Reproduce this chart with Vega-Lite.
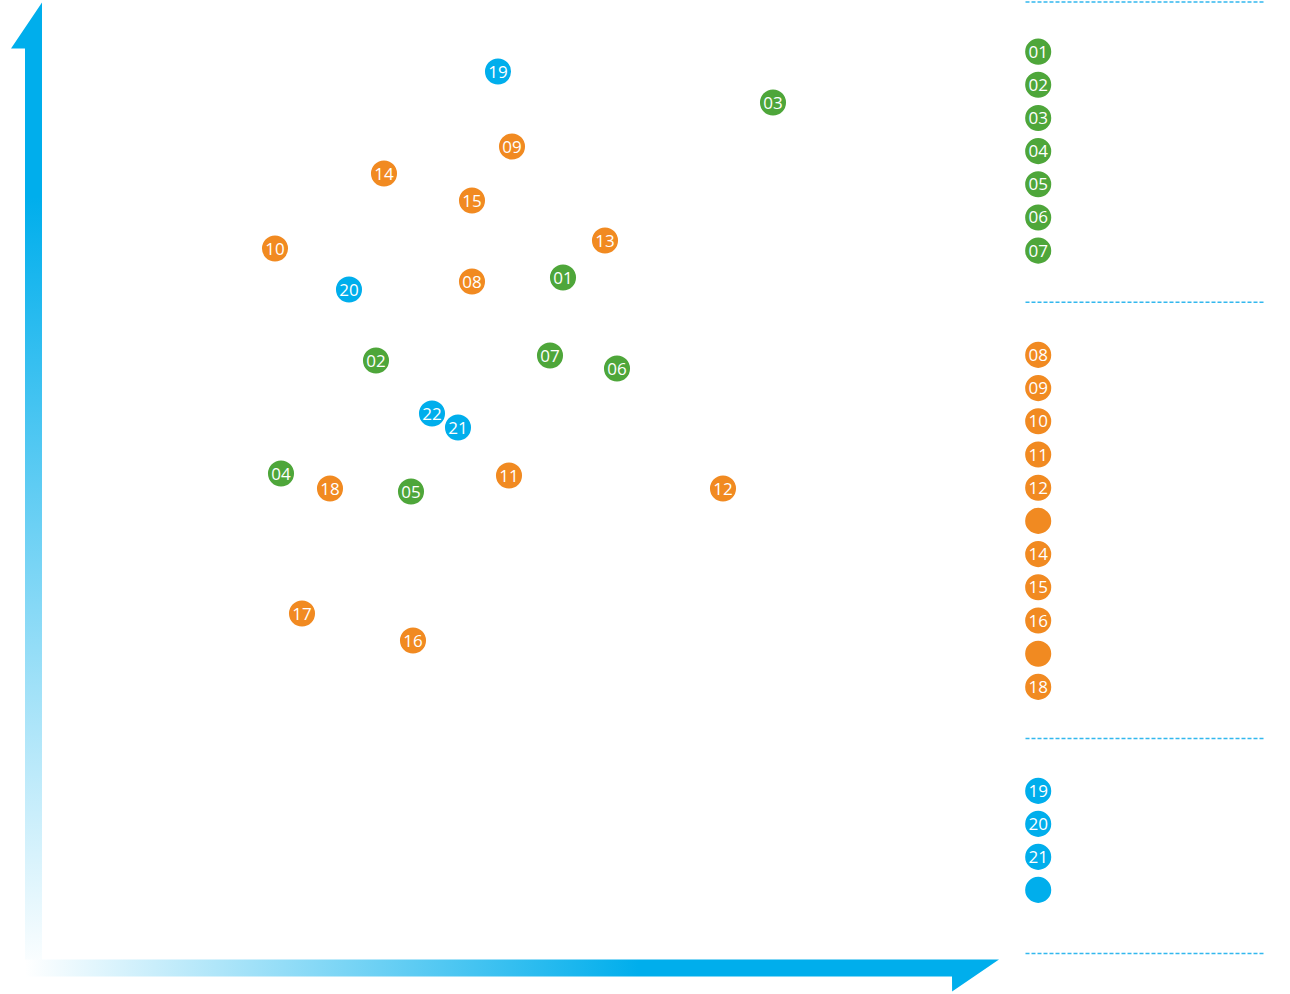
{
  "$schema": "https://vega.github.io/schema/vega-lite/v6.json",
  "padding": {"top": 1.5, "left": 0, "right": 0, "bottom": 0},
  "background": "#ffffff",
  "config": {"view": {"stroke": null}},
  "datasets": {
    "points": [
      {"id": "01", "group": "A", "x": 56.3, "y": 71.6},
      {"id": "02", "group": "A", "x": 37.6, "y": 63.3},
      {"id": "03", "group": "A", "x": 77.3, "y": 89.1},
      {"id": "04", "group": "A", "x": 28.1, "y": 52.0},
      {"id": "05", "group": "A", "x": 41.1, "y": 50.2},
      {"id": "06", "group": "A", "x": 61.7, "y": 62.5},
      {"id": "07", "group": "A", "x": 55.0, "y": 63.8},
      {"id": "08", "group": "B", "x": 47.2, "y": 71.2},
      {"id": "09", "group": "B", "x": 51.2, "y": 84.7},
      {"id": "10", "group": "B", "x": 27.5, "y": 74.5},
      {"id": "11", "group": "B", "x": 50.9, "y": 51.8},
      {"id": "12", "group": "B", "x": 72.3, "y": 50.5},
      {"id": "13", "group": "B", "x": 60.5, "y": 75.3},
      {"id": "14", "group": "B", "x": 38.4, "y": 82.0},
      {"id": "15", "group": "B", "x": 47.2, "y": 79.3},
      {"id": "16", "group": "B", "x": 41.3, "y": 35.3},
      {"id": "17", "group": "B", "x": 30.2, "y": 38.0},
      {"id": "18", "group": "B", "x": 33.0, "y": 50.5},
      {"id": "19", "group": "C", "x": 49.8, "y": 92.2},
      {"id": "20", "group": "C", "x": 34.9, "y": 70.4},
      {"id": "21", "group": "C", "x": 45.8, "y": 56.6},
      {"id": "22", "group": "C", "x": 43.2, "y": 58.0}
    ],
    "legend": [
      {"id": "01", "group": "A", "label": "01"},
      {"id": "02", "group": "A", "label": "02"},
      {"id": "03", "group": "A", "label": "03"},
      {"id": "04", "group": "A", "label": "04"},
      {"id": "05", "group": "A", "label": "05"},
      {"id": "06", "group": "A", "label": "06"},
      {"id": "07", "group": "A", "label": "07"},
      {"id": "08", "group": "B", "label": "08"},
      {"id": "09", "group": "B", "label": "09"},
      {"id": "10", "group": "B", "label": "10"},
      {"id": "11", "group": "B", "label": "11"},
      {"id": "12", "group": "B", "label": "12"},
      {"id": "13", "group": "B", "label": ""},
      {"id": "14", "group": "B", "label": "14"},
      {"id": "15", "group": "B", "label": "15"},
      {"id": "16", "group": "B", "label": "16"},
      {"id": "17", "group": "B", "label": ""},
      {"id": "18", "group": "B", "label": "18"},
      {"id": "19", "group": "C", "label": "19"},
      {"id": "20", "group": "C", "label": "20"},
      {"id": "21", "group": "C", "label": "21"},
      {"id": "22", "group": "C", "label": ""}
    ],
    "arrowV": [
      {"y": 1.7, "x1": 2.5, "x2": 4.2},
      {"y": 94.5, "x1": 2.5, "x2": 4.2},
      {"y": 94.51, "x1": 1.1, "x2": 4.2},
      {"y": 99.1, "x1": 4.2, "x2": 4.2}
    ],
    "arrowH": [
      {"x": 2.5, "y1": 1.7, "y2": 3.4},
      {"x": 95.2, "y1": 1.7, "y2": 3.4},
      {"x": 95.21, "y1": 0.2, "y2": 3.4},
      {"x": 99.9, "y1": 3.4, "y2": 3.4}
    ]
  },
  "hconcat": [
    {
      "width": 1000,
      "height": 975,
      "layer": [
        {
          "data": {"name": "arrowV"},
          "mark": {
            "type": "area",
            "orient": "horizontal",
            "fill": {
              "gradient": "linear", "x1": 0, "y1": 0, "x2": 0, "y2": 1,
              "stops": [
                {"offset": 0, "color": "#00AEEC"},
                {"offset": 0.2, "color": "#00AEEC"},
                {"offset": 1, "color": "#ffffff"}
              ]
            }
          },
          "encoding": {
            "y": {"field": "y", "type": "quantitative", "scale": {"domain": [0, 97.5], "nice": false, "zero": false}, "axis": null},
            "x": {"field": "x1", "type": "quantitative", "scale": {"domain": [0, 100], "nice": false, "zero": false}, "axis": null},
            "x2": {"field": "x2"}
          }
        },
        {
          "data": {"name": "arrowH"},
          "mark": {
            "type": "area",
            "orient": "vertical",
            "fill": {
              "gradient": "linear", "x1": 0, "y1": 0, "x2": 1, "y2": 0,
              "stops": [
                {"offset": 0, "color": "#ffffff"},
                {"offset": 0.63, "color": "#00AEEC"},
                {"offset": 1, "color": "#00AEEC"}
              ]
            }
          },
          "encoding": {
            "x": {"field": "x", "type": "quantitative", "axis": null},
            "y": {"field": "y1", "type": "quantitative", "axis": null},
            "y2": {"field": "y2"}
          }
        },
        {
          "data": {"name": "points"},
          "mark": {"type": "circle", "size": 680, "opacity": 1},
          "encoding": {
            "x": {"field": "x", "type": "quantitative", "axis": null},
            "y": {"field": "y", "type": "quantitative", "axis": null},
            "color": {"field": "group", "type": "nominal", "scale": {"domain": ["A", "B", "C"], "range": ["#4EA63A", "#F18A21", "#00AEEC"]}, "legend": null}
          }
        },
        {
          "data": {"name": "points"},
          "mark": {"type": "text", "font": "Open Sans", "fontSize": 17, "color": "#ffffff", "align": "center", "baseline": "middle", "dy": 1},
          "encoding": {
            "x": {"field": "x", "type": "quantitative", "axis": null},
            "y": {"field": "y", "type": "quantitative", "axis": null},
            "text": {"field": "id"}
          }
        }
      ]
    },
    {
      "spacing": 17.2,
      "vconcat": [
        {
          "width": 240,
          "height": 265.3,
          "data": {"name": "legend"},
          "transform": [{"filter": "datum.group === 'A'"}],
          "layer": [
            {
              "mark": {"type": "circle", "size": 680, "opacity": 1, "color": "#4EA63A"},
              "encoding": {
                "x": {"datum": 0.055, "type": "quantitative", "scale": {"domain": [0, 1], "nice": false}, "axis": {"orient": "top", "offset": 17, "domainColor": "#33B8EE", "domainDash": [4, 2], "domainWidth": 1.5, "ticks": false, "labels": false, "grid": false, "title": null}},
                "y": {"field": "id", "type": "ordinal", "scale": {"type": "point", "padding": 1}, "axis": null}
              }
            },
            {
              "mark": {"type": "text", "font": "Open Sans", "fontSize": 17, "color": "#ffffff", "align": "center", "baseline": "middle", "dy": 1},
              "encoding": {
                "x": {"datum": 0.055, "type": "quantitative"},
                "y": {"field": "id", "type": "ordinal"},
                "text": {"field": "label"}
              }
            }
          ]
        },
        {
          "width": 240,
          "height": 398.4,
          "data": {"name": "legend"},
          "transform": [{"filter": "datum.group === 'B'"}],
          "layer": [
            {
              "mark": {"type": "circle", "size": 680, "opacity": 1, "color": "#F18A21"},
              "encoding": {
                "x": {"datum": 0.055, "type": "quantitative", "scale": {"domain": [0, 1], "nice": false}, "axis": {"orient": "top", "offset": 20, "domainColor": "#33B8EE", "domainDash": [4, 2], "domainWidth": 1.5, "ticks": false, "labels": false, "grid": false, "title": null}},
                "y": {"field": "id", "type": "ordinal", "scale": {"type": "point", "padding": 1}, "axis": null}
              }
            },
            {
              "mark": {"type": "text", "font": "Open Sans", "fontSize": 17, "color": "#ffffff", "align": "center", "baseline": "middle", "dy": 1},
              "encoding": {
                "x": {"datum": 0.055, "type": "quantitative"},
                "y": {"field": "id", "type": "ordinal"},
                "text": {"field": "label"}
              }
            }
          ]
        },
        {
          "width": 240,
          "height": 165,
          "data": {"name": "legend"},
          "transform": [{"filter": "datum.group === 'C'"}],
          "resolve": {"axis": {"x": "independent"}},
          "layer": [
            {
              "mark": {"type": "circle", "size": 680, "opacity": 1, "color": "#00AEEC"},
              "encoding": {
                "x": {"datum": 0.055, "type": "quantitative", "scale": {"domain": [0, 1], "nice": false}, "axis": {"orient": "top", "offset": 20, "domainColor": "#33B8EE", "domainDash": [4, 2], "domainWidth": 1.5, "ticks": false, "labels": false, "grid": false, "title": null}},
                "y": {"field": "id", "type": "ordinal", "scale": {"type": "point", "padding": 1}, "axis": null}
              }
            },
            {
              "mark": {"type": "text", "font": "Open Sans", "fontSize": 17, "color": "#ffffff", "align": "center", "baseline": "middle", "dy": 1},
              "encoding": {
                "x": {"datum": 0.055, "type": "quantitative", "axis": {"orient": "bottom", "offset": 30, "domainColor": "#33B8EE", "domainDash": [4, 2], "domainWidth": 1.5, "ticks": false, "labels": false, "grid": false, "title": null}},
                "y": {"field": "id", "type": "ordinal"},
                "text": {"field": "label"}
              }
            }
          ]
        }
      ]
    }
  ],
  "spacing": 25
}
